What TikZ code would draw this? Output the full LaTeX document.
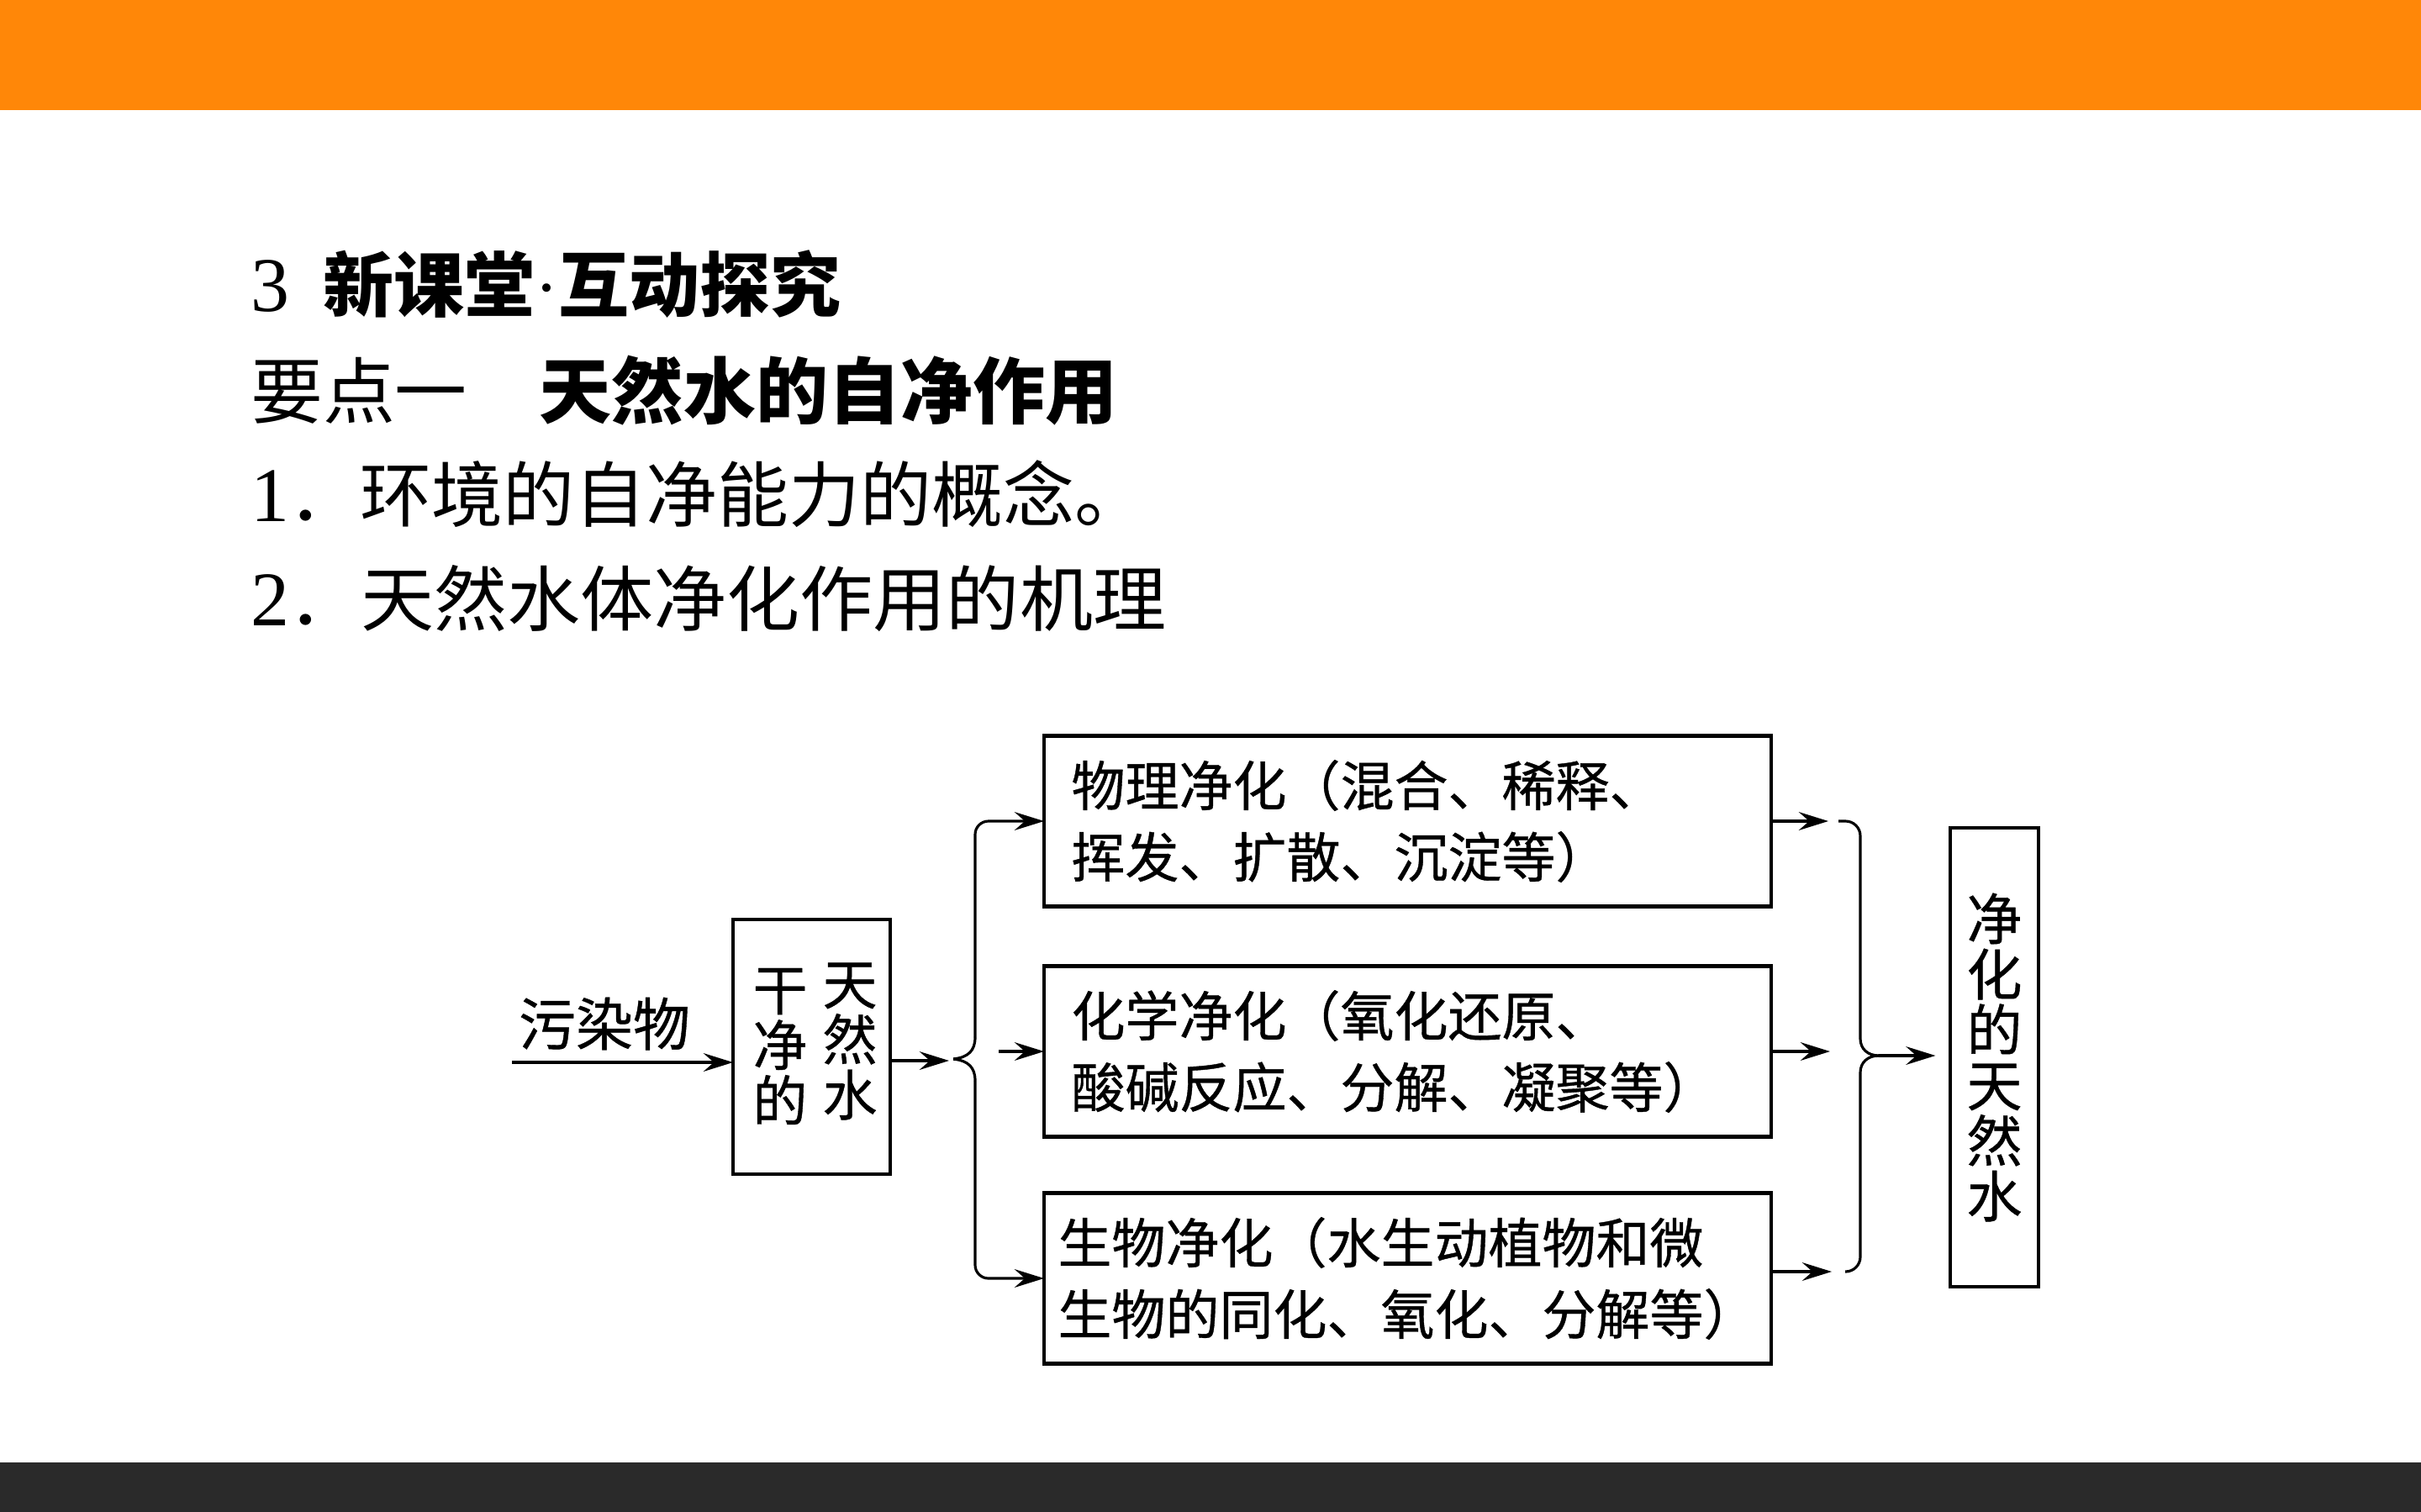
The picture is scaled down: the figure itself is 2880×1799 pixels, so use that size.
\documentclass[tikz,border=0pt]{standalone}
\usepackage{graphicx}
\usepackage{fontspec}
\setmainfont{Liberation Serif}
\newfontfamily\cjk{Noto Sans CJK SC}
\newfontfamily\cjkd{Noto Sans CJK SC}[FakeBold=0.6]
\usetikzlibrary{arrows.meta,calc}
\definecolor{topbar}{HTML}{FF8708}
\definecolor{botbar}{HTML}{2A2A2A}
\begin{document}
\begin{tikzpicture}[x=0.1mm,y=-0.1mm,
  every node/.style={inner sep=0pt,outer sep=0pt},
  ln/.style={line width=0.9pt},
  arr/.style={ln,-{Stealth[length=10pt,width=6.2pt,inset=3.5pt]}},
  frame/.style={draw,line width=1.2pt},
  bx/.style={frame,minimum width=86.5mm,minimum height=20.3mm,align=left,
    font=\cjkd\fontsize{6.4mm}{8.5mm}\selectfont},
  bxw/.style={bx,text width=80mm},
  vt/.style={align=center,font=\cjkd\fontsize{6.5mm}{6.6mm}\selectfont}
]
\useasboundingbox (0,0) rectangle (2880,1799);
\fill[white] (0,0) rectangle (2880,1799);
\fill[topbar] (0,0) rectangle (2880,131);
\fill[botbar] (0,1740) rectangle (2880,1799);

% heading text
\node[anchor=west] (t1) at (298,338) {{\fontsize{9.2mm}{9.2mm}\selectfont 3}\hspace{4.1mm}{\cjk\bfseries\fontsize{8.4mm}{8.4mm}\selectfont 新课堂{\rmfamily\mdseries\fontsize{8.4mm}{8.4mm}\selectfont ·}互动探究}};
\node[anchor=west] (t2) at (298,465) {\cjk\fontsize{8.6mm}{8.6mm}\selectfont 要点一　{\bfseries 天然水的自净作用}};
\node[anchor=west] (t3) at (298,588) {{\fontsize{9.2mm}{9.2mm}\selectfont 1}{\cjk\fontsize{8.5mm}{8.5mm}\selectfont ．环境的自净能力的概念。}};
\node[anchor=west] (t4) at (298,712) {{\fontsize{9.2mm}{9.2mm}\selectfont 2}{\cjk\fontsize{8.5mm}{8.5mm}\selectfont ．\scalebox{1.025}[1]{天然水体净化作用的机理}}};

% diagram
\node[font=\cjkd\fontsize{6.8mm}{6.8mm}\selectfont] (pol) at (719,1218) {污染物};
\node[frame,minimum width=18.7mm,minimum height=30.3mm] (w) at (965.5,1245.5) {};
\node[vt] (w1) at (928,1245) {干\\净\\的};
\node[vt] (w2) at (1011,1239) {天\\然\\水};

\node[bxw] (p1) at (1674.5,977) {物理净化（混合、稀释、\\挥发、扩散、沉淀等）};
\node[bxw] (p2) at (1674.5,1251) {化学净化（氧化还原、\\酸碱反应、分解、凝聚等）};
\node[bx] (p3) at (1674.5,1521) {生物净化（水生动植物和微\\生物的同化、氧化、分解等）};

\node[frame,minimum width=10.5mm,minimum height=54.6mm,align=center,
  font=\cjkd\fontsize{6.6mm}{6.6mm}\selectfont] (f) at (2372.5,1258) {净\\化\\的\\天\\然\\水};

% input arrow
\coordinate (src) at (609,1264);
\draw[arr] (src) -- (w.west |- src);

% left brace
\coordinate (lbin) at (1129,1262);
\draw[arr] (w.east |- lbin) -- (lbin);
\coordinate (lb) at (1134,1260);
\coordinate (lbu) at (1160,1234);
\coordinate (lbd) at (1160,1286);
\draw[ln] (lb) .. controls (1152,1258) and (1160,1250) .. (lbu);
\draw[ln] (lb) .. controls (1152,1262) and (1160,1270) .. (lbd);
\draw[arr,rounded corners=4.5pt] (lbu) |- (p1.west);
\draw[arr,rounded corners=4.5pt] (lbd) |- (p3.west);
\coordinate (m2) at ($(p2.west)+(-54,0)$);
\draw[arr] (m2) -- (p2.west);

% right arrows
\coordinate (r1) at ($(p1.east)+(68,0)$);
\coordinate (r2) at ($(p2.east)+(70,0)$);
\coordinate (r3) at ($(p3.east)+(72,-8)$);
\draw[arr] (p1.east) -- (r1);
\draw[arr] (p2.east) -- (r2);
\draw[arr] (p3.east |- r3) -- (r3);

% right brace
\coordinate (rb) at (2235,1256);
\coordinate (rbt) at (2187,977);
\coordinate (rbb) at (2195,1513);
\coordinate (rbu) at (2213,1236);
\coordinate (rbd) at (2213,1276);
\draw[ln,rounded corners=5pt] (rbt) -| (rbu);
\draw[ln] (rbu) .. controls (2213,1248) and (2222,1256) .. (rb);
\draw[ln] (rb) .. controls (2222,1256) and (2213,1264) .. (rbd);
\draw[ln,rounded corners=5pt] (rbd) |- (rbb);
\draw[arr,shorten >=5pt] (rb) -- (f.west |- rb);
\end{tikzpicture}
\end{document}
